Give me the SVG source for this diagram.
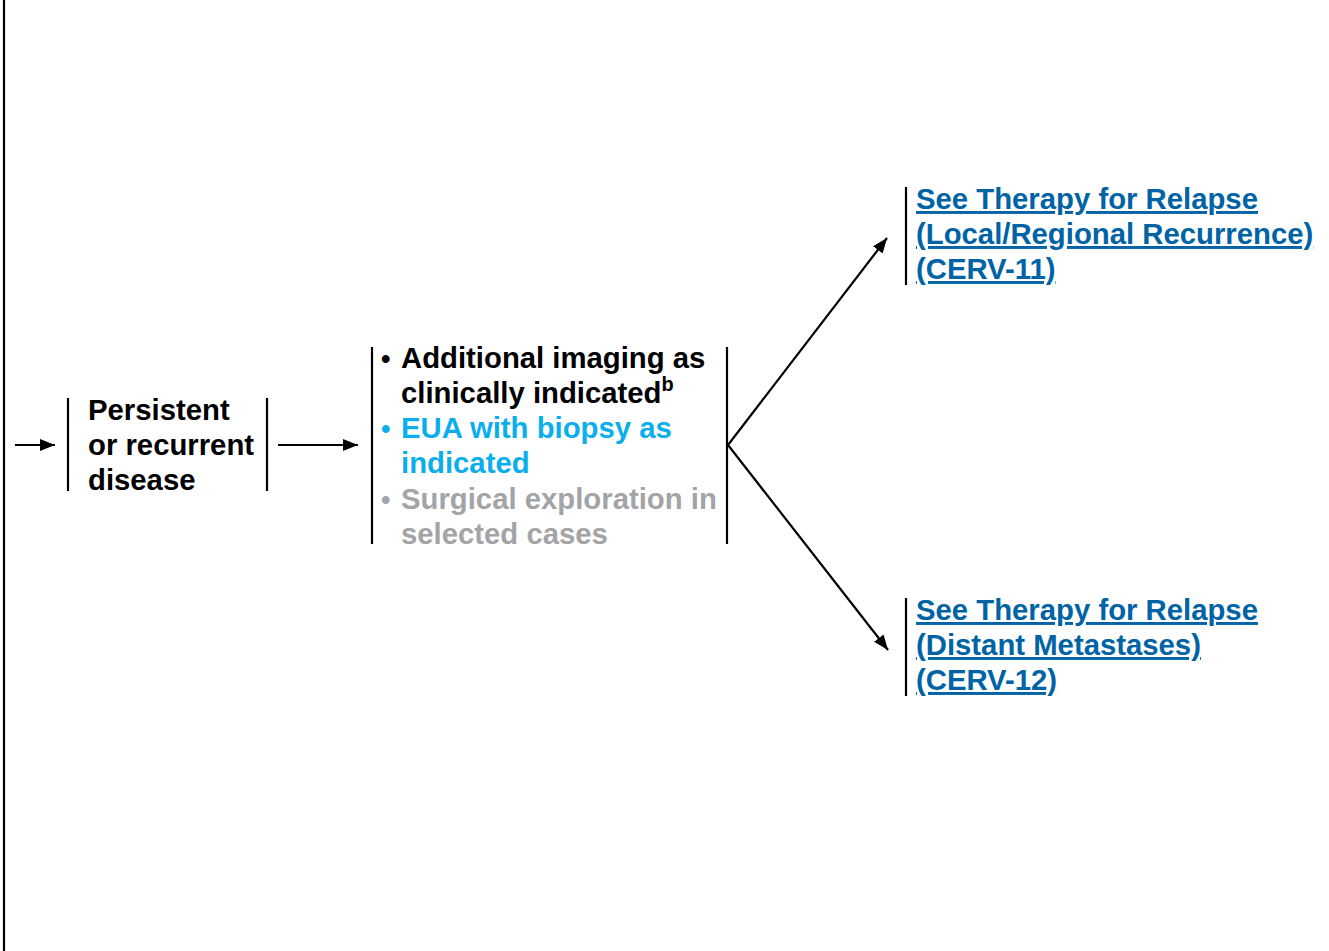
<svg xmlns="http://www.w3.org/2000/svg" width="1329" height="951" viewBox="0 0 1329 951">
<style>
text{font-family:"Liberation Sans",Arial,sans-serif;font-weight:bold;font-size:29.3px}
.k{fill:#000}
.b{fill:#0BAEEC}
.g{fill:#A2A4A7}
.l{fill:#0063A6;text-decoration:underline}
.bu{font-size:27px}
.br{stroke:#000;stroke-width:2.2;fill:none}
.c{stroke:#000;stroke-width:2.2;fill:none}
</style>
<defs>
<marker id="ah2" viewBox="0 0 10 10" refX="10" refY="5" markerWidth="15" markerHeight="15" markerUnits="userSpaceOnUse" orient="auto"><path d="M0,1 L10,5 L0,9 z" fill="#000"/></marker>
</defs>
<line x1="4" y1="0" x2="4" y2="951" class="br"/>
<g id="connectors">
<line x1="15" y1="445" x2="55" y2="445" class="c" marker-end="url(#ah2)"/>
<line x1="278" y1="445" x2="358" y2="445" class="c" marker-end="url(#ah2)"/>
<line x1="728" y1="445" x2="887" y2="238" class="c" marker-end="url(#ah2)"/>
<line x1="728" y1="445" x2="888" y2="650" class="c" marker-end="url(#ah2)"/>
</g>
<g id="node-persistent">
<line x1="68" y1="398" x2="68" y2="491" class="br"/>
<line x1="267" y1="398" x2="267" y2="491" class="br"/>
<text class="k"><tspan x="88" y="420">Persistent</tspan><tspan x="88" y="455">or recurrent</tspan><tspan x="88" y="490">disease</tspan></text>
</g>
<g id="node-workup">
<line x1="372" y1="347" x2="372" y2="544" class="br"/>
<line x1="727" y1="347" x2="727" y2="544" class="br"/>
<text class="k"><tspan x="381" y="368" class="bu">•</tspan><tspan x="401" y="368">Additional imaging as</tspan><tspan x="401" y="403">clinically indicated</tspan><tspan dy="-12" font-size="20">b</tspan></text>
<text class="b"><tspan x="381" y="438" class="bu">•</tspan><tspan x="401" y="438">EUA with biopsy as</tspan><tspan x="401" y="473">indicated</tspan></text>
<text class="g"><tspan x="381" y="509" class="bu">•</tspan><tspan x="401" y="509">Surgical exploration in</tspan><tspan x="401" y="544">selected cases</tspan></text>
</g>
<g id="node-local">
<line x1="906" y1="187" x2="906" y2="285" class="br"/>
<text class="l"><tspan x="916" y="209">See Therapy for Relapse</tspan><tspan x="916" y="244">(Local/Regional Recurrence)</tspan><tspan x="916" y="279">(CERV-11)</tspan></text>
</g>
<g id="node-distant">
<line x1="906" y1="598" x2="906" y2="696" class="br"/>
<text class="l"><tspan x="916" y="620">See Therapy for Relapse</tspan><tspan x="916" y="655">(Distant Metastases)</tspan><tspan x="916" y="690">(CERV-12)</tspan></text>
</g>
</svg>
